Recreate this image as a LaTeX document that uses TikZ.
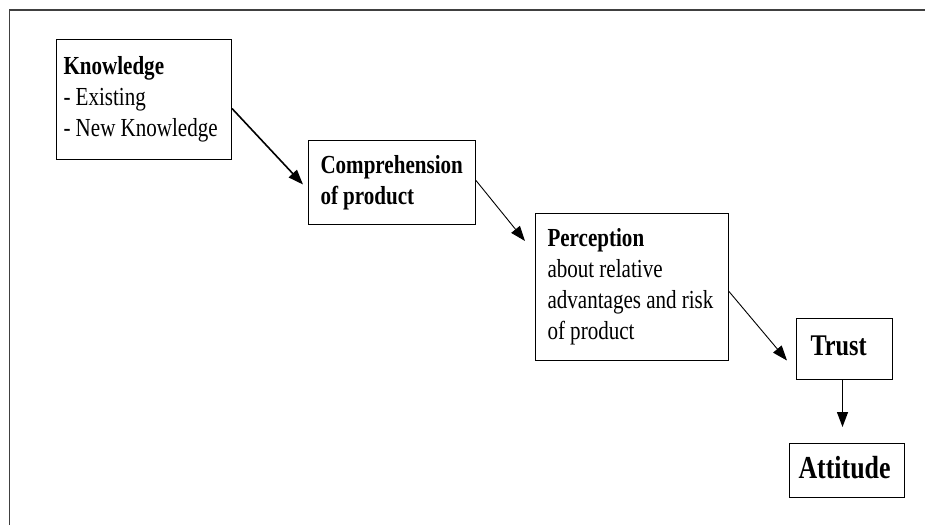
\documentclass[tikz,border=0pt]{standalone}
\usepackage{fontspec}
\setmainfont{Liberation Serif}[FakeStretch=0.81]
\usetikzlibrary{arrows.meta}
\newcommand\mytightspace{\spaceskip=5.2pt plus 1pt minus 1pt\relax}
\tikzset{
  box/.style={draw=black, line width=1pt, rectangle, anchor=north west, align=left,
    font=\fontsize{26}{31}\selectfont, inner ysep=0pt,
    execute at begin node=\mytightspace},
  link/.style={line width=1pt, -{Triangle[length=15pt,width=11pt]}},
  frame/.style={draw=black!75, line width=1.6pt}
}
\begin{document}
\begin{tikzpicture}[x=1pt,y=-1pt]
\useasboundingbox (0,0) rectangle (925,525);
\fill[white] (0,0) rectangle (925,525);
\draw[frame] (9.5,525) -- (9.5,10) -- (925,10);

\node[box, inner xsep=7pt, text width=161pt, minimum width=175pt, minimum height=120pt] (k) at (56,39)
  {\textbf{Knowledge}\\\mbox{- Existing}\\\mbox{- New Knowledge}};
\node[box, inner xsep=12pt, text width=143pt, minimum width=167pt, minimum height=84pt] (c) at (308,140)
  {\mbox{\textbf{Comprehension}}\\\mbox{\textbf{of product}}};
\node[box, inner xsep=12pt, text width=169pt, minimum width=193pt, minimum height=147pt] (p) at (535,213)
  {\textbf{Perception}\\\mbox{about relative}\\\mbox{advantages and risk}\\\mbox{of product}};
\node[box, inner xsep=14pt, text width=68pt, minimum width=96pt, minimum height=61pt,
  font=\fontsize{30}{36}\selectfont] (t) at (796,318) {\textbf{Trust}\vphantom{p}};
\node[box, inner xsep=9pt, text width=97pt, minimum width=115pt, minimum height=54pt,
  font=\fontsize{32}{38}\selectfont] (a) at (789,443) {\textbf{Attitude}\vphantom{p}};

\coordinate (e1) at ([xshift=-5pt,yshift=-2pt]c.west);
\coordinate (e2) at ([xshift=-10pt,yshift=-28pt]p.north west);
\coordinate (e3) at ([xshift=-9pt,yshift=-11.5pt]t.west);
\coordinate (s4) at ([xshift=-2pt]t.south);
\coordinate (e4a) at (s4 |- a.north);
\coordinate (e4) at ([yshift=16pt]e4a);

\draw[link, line width=1.6pt] ([yshift=-9pt]k.east) -- (e1);
\draw[link, line width=0.9pt] ([yshift=2pt]c.east) -- (e2);
\draw[link, line width=0.9pt] ([yshift=-4.5pt]p.east) -- (e3);
\draw[link, line width=1.3pt] (s4) -- (e4);
\end{tikzpicture}
\end{document}
